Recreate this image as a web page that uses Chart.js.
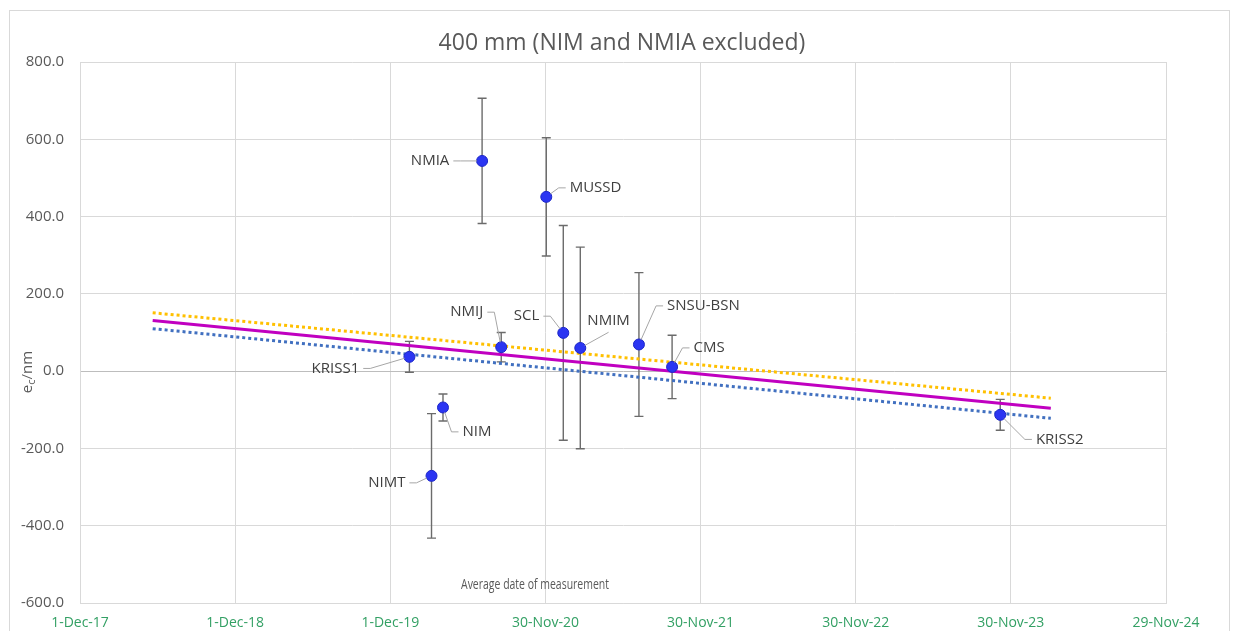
<!DOCTYPE html>
<html>
<head>
<meta charset="utf-8">
<script src="https://cdn.jsdelivr.net/npm/chart.js@4.4.1/dist/chart.umd.min.js"></script>
<style>
html,body{margin:0;padding:0;background:#fff;}
#wrap{width:1234px;height:631px;position:relative;}
</style>
</head>
<body>
<div id="wrap"><canvas id="c" width="1234" height="631"></canvas></div>
<script>
// ---- data (Excel serial dates, nm) ----
const labs = ['KRISS1','NIMT','NIM','NMIA','NMIJ','MUSSD','SCL','NMIM','SNSU-BSN','CMS','KRISS2'];
const dates = [43845, 43897, 43924, 44016, 44061, 44167, 44207, 44247, 44385, 44463, 45235];
const ecVals = [37, -271, -94, 544, 62, 451, 99, 60, 69, 11, -113];
const uncVals = [40, 161, 35, 162, 38, 153, 278, 261, 186, 82, 40];
const trendX = [43241, 45354];
const fitY = [131, -96];
const upperY = [151, -70];
const lowerY = [110, -122];
const xTicks = [43070, 43435, 43800, 44165, 44530, 44895, 45260, 45625];
const yTicks = [-600, -400, -200, 0, 200, 400, 600, 800];
const titleText = '400 mm (NIM and NMIA excluded)';
const xTitle = 'Average date of measurement';

// label placement (pixel offsets from the point), kept apart from data
const labelLayout = {
  'KRISS1': {dx:-74, dy:11.6, side:'r'},
  'NIMT': {dx:-44.7, dy:7, side:'r'},
  'NIM': {dx:34, dy:24.4, side:'l'},
  'NMIA': {dx:-52, dy:0, side:'r'},
  'NMIJ': {dx:-34.4, dy:-35, side:'r'},
  'MUSSD': {dx:49.3, dy:-9, side:'l'},
  'SCL': {dx:-36.7, dy:-16.7, side:'r'},
  'NMIM': {dx:28.3, dy:-27.7, side:'b'},
  'SNSU-BSN': {dx:64.5, dy:-38.6, side:'l'},
  'CMS': {dx:37, dy:-19, side:'l'},
  'KRISS2': {dx:59.5, dy:24.6, side:'l'}
};

const MON = ['Jan','Feb','Mar','Apr','May','Jun','Jul','Aug','Sep','Oct','Nov','Dec'];
function fmtSerial(s){
  const d = new Date(Math.round((s - 25569) * 86400000));
  return d.getUTCDate() + '-' + MON[d.getUTCMonth()] + '-' + String(d.getUTCFullYear()).slice(2);
}

const FONT = "'Open Sans', 'Liberation Sans', sans-serif";

const pts = dates.map((d,i)=>({x:d, y:ecVals[i]}));

const decor = {
  id:'decor',
  beforeDraw(chart){
    const ctx = chart.ctx;
    ctx.save();
    ctx.strokeStyle = '#d9d9d9';
    ctx.lineWidth = 1;
    ctx.strokeRect(9.5, 10.5, 1220, 640);
    ctx.restore();
  },
  beforeDatasetsDraw(chart){
    const ctx = chart.ctx, xs = chart.scales.x, ys = chart.scales.y;
    ctx.save();
    ctx.strokeStyle = '#6b6b6b';
    ctx.lineWidth = 1.4;
    for(let i=0;i<dates.length;i++){
      const px = xs.getPixelForValue(dates[i]);
      const top = ys.getPixelForValue(ecVals[i] + uncVals[i]);
      const bot = ys.getPixelForValue(ecVals[i] - uncVals[i]);
      ctx.beginPath();
      ctx.moveTo(px, top); ctx.lineTo(px, bot);
      ctx.moveTo(px-4.5, top); ctx.lineTo(px+4.5, top);
      ctx.moveTo(px-4.5, bot); ctx.lineTo(px+4.5, bot);
      ctx.stroke();
    }
    ctx.restore();
  },
  afterDatasetsDraw(chart){
    const ctx = chart.ctx, xs = chart.scales.x, ys = chart.scales.y;
    ctx.save();
    ctx.font = "15px " + FONT;
    ctx.textBaseline = 'middle';
    ctx.textAlign = 'center';
    for(let i=0;i<labs.length;i++){
      const L = labelLayout[labs[i]];
      const px = xs.getPixelForValue(dates[i]);
      const py = ys.getPixelForValue(ecVals[i]);
      const cx = px + L.dx, cy = py + L.dy;
      const w = ctx.measureText(labs[i]).width;
      let ax, ay, bx, by;
      if(L.side==='r'){ ax = cx + w/2 + 4; ay = cy; bx = ax + 7; by = cy; }
      else if(L.side==='l'){ ax = cx - w/2 - 4; ay = cy; bx = ax - 7; by = cy; }
      else { ax = cx; ay = cy + 12; bx = ax; by = ay; }
      const vx = px - bx, vy = py - by, len = Math.hypot(vx,vy);
      const ex = px - vx/len*5, ey = py - vy/len*5;
      ctx.strokeStyle = '#a6a6a6';
      ctx.lineWidth = 1;
      ctx.beginPath();
      ctx.moveTo(ax, ay); ctx.lineTo(bx, by); ctx.lineTo(ex, ey);
      ctx.stroke();
      ctx.fillStyle = '#404040';
      ctx.fillText(labs[i], cx, cy);
    }
    ctx.restore();
  },
  afterDraw(chart){
    const ctx = chart.ctx;
    ctx.save();
    ctx.fillStyle = '#595959';
    ctx.textAlign = 'center';
    ctx.textBaseline = 'middle';
    ctx.font = "23px " + FONT;
    ctx.fillText(titleText, 622, 43);
    // x axis title (compressed like the original's narrow face)
    ctx.font = "15px " + FONT;
    const wt = ctx.measureText(xTitle).width;
    ctx.save();
    ctx.translate(535, 585);
    ctx.scale(148 / wt, 1);
    ctx.fillText(xTitle, 0, 0);
    ctx.restore();
    // y axis title e_c/nm rotated
    ctx.translate(28, 372);
    ctx.rotate(-Math.PI/2);
    ctx.textAlign = 'left';
    ctx.font = "15px " + FONT;
    const w1 = ctx.measureText('e').width;
    ctx.font = "11px " + FONT;
    const w2 = ctx.measureText('c').width;
    ctx.font = "15px " + FONT;
    const w3 = ctx.measureText('/nm').width;
    let x0 = -(w1+w2+w3)/2;
    ctx.fillText('e', x0, 0);
    ctx.font = "11px " + FONT;
    ctx.fillText('c', x0+w1, 4);
    ctx.font = "15px " + FONT;
    ctx.fillText('/nm', x0+w1+w2, 0);
    ctx.restore();
  }
};

new Chart(document.getElementById('c'), {
  type:'scatter',
  data:{
    datasets:[
      {label:'fit', type:'line', data:trendX.map((x,i)=>({x, y:fitY[i]})), borderColor:'#c000c0', borderWidth:3, pointRadius:0, fill:false, order:3},
      {label:'upper', type:'line', data:trendX.map((x,i)=>({x, y:upperY[i]})), borderColor:'#ffc000', borderWidth:3, borderDash:[3,3], pointRadius:0, fill:false, order:4},
      {label:'lower', type:'line', data:trendX.map((x,i)=>({x, y:lowerY[i]})), borderColor:'#4170c0', borderWidth:3, borderDash:[3,3], pointRadius:0, fill:false, order:4},
      {label:'e_c', data:pts, backgroundColor:'#2b35f2', borderColor:'#1d27c8', borderWidth:1, pointRadius:5.5, pointHoverRadius:5.5, order:1}
    ]
  },
  options:{
    responsive:false,
    animation:false,
    events:[],
    layout:{padding:{left:0, top:62, right:68, bottom:0}},
    plugins:{legend:{display:false}, tooltip:{enabled:false}, title:{display:false}},
    scales:{
      x:{
        type:'linear', min:xTicks[0], max:xTicks[xTicks.length-1],
        afterBuildTicks(s){ s.ticks = xTicks.map(v=>({value:v})); },
        afterFit(s){ s.height = 28; },
        grid:{color:'#d9d9d9', lineWidth:1, drawTicks:false},
        border:{display:true, color:'#d9d9d9'},
        ticks:{padding:12, color:'#33a064', font:{family:FONT, size:14}, maxRotation:0, autoSkip:false, callback:(v)=>fmtSerial(v)}
      },
      y:{
        min:-600, max:800,
        afterBuildTicks(s){ s.ticks = yTicks.map(v=>({value:v})); },
        afterFit(s){ s.width = 80; },
        grid:{color:(c)=> c.tick && c.tick.value===0 ? '#bdbdbd' : '#d9d9d9', lineWidth:1, drawTicks:false},
        border:{display:true, color:'#d9d9d9'},
        ticks:{padding:16, color:'#595959', font:{family:FONT, size:15}, callback:(v)=>v.toFixed(1)}
      }
    }
  },
  plugins:[decor]
});
</script>
</body>
</html>
